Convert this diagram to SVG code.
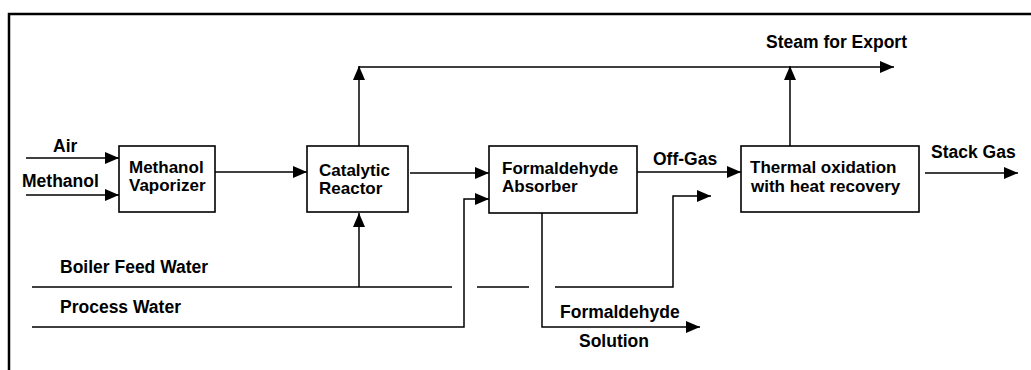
<svg xmlns="http://www.w3.org/2000/svg" width="1031" height="370" viewBox="0 0 1031 370">
<style>
.box{fill:#fff;stroke:#000;stroke-width:1.6}
.ln{fill:none;stroke:#000;stroke-width:1.5}
.t{font-family:"Liberation Sans",Arial,sans-serif;font-weight:bold;font-size:17.5px;fill:#000}
.b{font-size:17px}
</style>
<defs>
<marker id="ah" markerUnits="userSpaceOnUse" markerWidth="15" markerHeight="13" refX="14" refY="6" orient="auto">
<path d="M0,0 L14,6 L0,12 z" fill="#000"/>
</marker>
</defs>
<rect width="1031" height="370" fill="#fff"/>
<path d="M9,370 V14 H1031" fill="none" stroke="#000" stroke-width="2.5"/>

<g id="connectors">
<line class="ln" x1="26" y1="158" x2="119" y2="158" marker-end="url(#ah)"/>
<line class="ln" x1="26" y1="195" x2="119" y2="195" marker-end="url(#ah)"/>
<line class="ln" x1="215" y1="172" x2="307" y2="172" marker-end="url(#ah)"/>
<line class="ln" x1="359" y1="146" x2="359" y2="66" marker-end="url(#ah)"/>
<line class="ln" x1="359" y1="67" x2="894" y2="67" marker-end="url(#ah)"/>
<line class="ln" x1="410" y1="173" x2="489" y2="173" marker-end="url(#ah)"/>
<line class="ln" x1="637" y1="172" x2="741" y2="172" marker-end="url(#ah)"/>
<line class="ln" x1="790" y1="146" x2="790" y2="66" marker-end="url(#ah)"/>
<line class="ln" x1="925" y1="173" x2="1018" y2="173" marker-end="url(#ah)"/>
<line class="ln" x1="32" y1="287" x2="452" y2="287"/>
<line class="ln" x1="359" y1="287" x2="359" y2="213" marker-end="url(#ah)"/>
<line class="ln" x1="477" y1="287" x2="529" y2="287"/>
<polyline class="ln" points="555,287 673,287 673,196 711,196" marker-end="url(#ah)"/>
<polyline class="ln" points="32,327 464,327 464,199 489,199" marker-end="url(#ah)"/>
<polyline class="ln" points="542,213 542,327 700,327" marker-end="url(#ah)"/>
</g>

<g id="labels">
<text class="t" x="53" y="152">Air</text>
<text class="t" x="22" y="187">Methanol</text>
<text class="t" x="766" y="48">Steam for Export</text>
<text class="t" x="653" y="165">Off-Gas</text>
<text class="t" x="931" y="158">Stack Gas</text>
<text class="t" x="60" y="273">Boiler Feed Water</text>
<text class="t" x="60" y="313">Process Water</text>
<text class="t" x="560" y="318">Formaldehyde</text>
<text class="t" x="579" y="347">Solution</text>
</g>

<g id="vaporizer">
<rect class="box" x="119" y="146" width="96" height="66"/>
<text class="t b" x="129" y="173">Methanol</text>
<text class="t b" x="129" y="191">Vaporizer</text>
</g>

<g id="reactor">
<rect class="box" x="307" y="146" width="101" height="66"/>
<text class="t b" x="319" y="176">Catalytic</text>
<text class="t b" x="319" y="194">Reactor</text>
</g>

<g id="absorber">
<rect class="box" x="489" y="146" width="148" height="67"/>
<text class="t b" x="502" y="174">Formaldehyde</text>
<text class="t b" x="502" y="192">Absorber</text>
</g>

<g id="oxidizer">
<rect class="box" x="741" y="146" width="178" height="66"/>
<text class="t b" x="750" y="173">Thermal oxidation</text>
<text class="t b" x="751" y="192">with heat recovery</text>
</g>
</svg>
